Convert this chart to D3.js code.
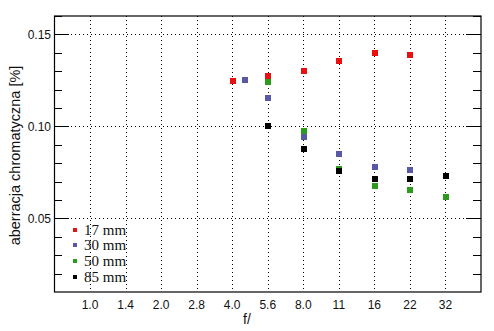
<!DOCTYPE html>
<html>
<head>
<meta charset="utf-8">
<script src="https://cdn.jsdelivr.net/npm/d3@7"></script>
<style>
  body { margin: 0; background: #fff; }
  svg { display: block; }
  .tick-label { font-family: "Liberation Sans", Arial, sans-serif; font-size: 12px; fill: #111; }
</style>
</head>
<body>
<svg id="chart" width="494" height="331"></svg>
<script>
// f-number stops shown on the axis
const fStops = ["1.0", "1.4", "2.0", "2.8", "4.0", "5.6", "8.0", "11", "16", "22", "32"];
const yTicks = [0.05, 0.10, 0.15];

// aberration per focal length
const series = ["17 mm", "30 mm", "50 mm", "85 mm"];
const colors = ["#e81010", "#5858a8", "#2c9a1c", "#000000"];
const f17 = [[4.0, 0.1245], [5.6, 0.1272], [8.0, 0.1299], [11, 0.1353], [16, 0.1397], [22, 0.1386]];
const f30 = [[4.5, 0.1250], [5.6, 0.1152], [8.0, 0.0940], [11, 0.0848], [16, 0.0777], [22, 0.0762]];
const f50 = [[5.6, 0.1239], [8.0, 0.0973], [11, 0.0768], [16, 0.0674], [22, 0.0652], [32, 0.0614]];
const f85 = [[5.6, 0.1000], [8.0, 0.0875], [11, 0.0755], [16, 0.0712], [22, 0.0712], [32, 0.0728]];
const values = [f17, f30, f50, f85];

const svg = d3.select("#chart");
const plot = { left: 54.5, right: 481, top: 16, bottom: 292 };

// nominal stop -> exact power of sqrt(2), other values pass through
const exactF = (f) => {
  const i = fStops.findIndex(s => +s === f);
  return i >= 0 ? Math.pow(Math.SQRT2, i) : f;
};

const x = d3.scaleLog().domain([Math.SQRT1_2, 32 * Math.SQRT2]).range([plot.left, plot.right]);
const y = d3.scaleLinear().domain([0.01, 0.16]).range([plot.bottom, plot.top]);

const minor = d3.range(0.02, 0.16, 0.01).filter(v => !yTicks.some(t => Math.abs(t - v) < 1e-6));

// dotted grid
const grid = svg.append("g").attr("stroke", "#000").attr("stroke-width", 1)
  .attr("stroke-dasharray", "1,3").attr("shape-rendering", "crispEdges");
fStops.forEach((s, i) => {
  const xx = Math.round(x(exactF(+s))) + 0.5;
  grid.append("line").attr("x1", xx).attr("x2", xx).attr("y1", plot.top).attr("y2", plot.bottom);
});
yTicks.forEach(v => {
  const yy = Math.round(y(v)) + 0.5;
  grid.append("line").attr("x1", plot.left).attr("x2", plot.right).attr("y1", yy).attr("y2", yy);
});

// tick marks on both sides
const ticks = svg.append("g").attr("stroke", "#000").attr("shape-rendering", "crispEdges");
yTicks.forEach(v => {
  const yy = Math.round(y(v)) + 0.5;
  ticks.append("line").attr("x1", plot.left).attr("x2", plot.left + 14).attr("y1", yy).attr("y2", yy);
  ticks.append("line").attr("x1", plot.right - 15).attr("x2", plot.right).attr("y1", yy).attr("y2", yy);
});
minor.forEach(v => {
  const yy = Math.round(y(v)) + 0.5;
  ticks.append("line").attr("x1", plot.left).attr("x2", plot.left + 7).attr("y1", yy).attr("y2", yy);
  ticks.append("line").attr("x1", plot.right - 8).attr("x2", plot.right).attr("y1", yy).attr("y2", yy);
});

// frame
svg.append("rect").attr("x", plot.left).attr("y", plot.top)
  .attr("width", plot.right - plot.left).attr("height", plot.bottom - plot.top)
  .attr("fill", "none").attr("stroke", "#000").attr("stroke-width", 1.2);

// tick labels
svg.append("g").selectAll("text").data(yTicks).join("text")
  .attr("class", "tick-label").attr("x", 51).attr("y", d => y(d) + 4.5)
  .attr("text-anchor", "end").text(d => d.toFixed(2));
svg.append("g").selectAll("text").data(fStops).join("text")
  .attr("class", "tick-label").attr("x", (d, i) => x(Math.pow(Math.SQRT2, i)))
  .attr("y", 309).attr("text-anchor", "middle").text(d => d);

// axis titles
svg.append("text").attr("class", "tick-label").style("font-size", "14px")
  .attr("x", 243).attr("y", 324).text("f/");
svg.append("text").attr("class", "tick-label").style("font-size", "14.5px")
  .attr("transform", "translate(19.5,155.5) rotate(-90)")
  .attr("text-anchor", "middle").text("aberracja chromatyczna [%]");

// points
const ms = 6;
values.forEach((pts, k) => {
  svg.append("g").selectAll("rect").data(pts).join("rect")
    .attr("x", d => Math.round(x(exactF(d[0])) - ms / 2 + 0.5))
    .attr("y", d => Math.round(y(d[1]) - ms / 2))
    .attr("width", ms).attr("height", ms)
    .attr("fill", colors[k]);
});

// legend
const lg = svg.append("g");
series.forEach((name, k) => {
  const yy = 229.5 + k * 15.7;
  lg.append("rect").attr("x", 73).attr("y", Math.round(yy - 2)).attr("width", 4).attr("height", 4)
    .attr("fill", colors[k]);
  lg.append("text").attr("x", 84).attr("y", yy + 5)
    .style("font-family", "'Liberation Serif', 'Times New Roman', serif")
    .style("font-size", "15px").attr("fill", "#111").text(name);
});
</script>
</body>
</html>
